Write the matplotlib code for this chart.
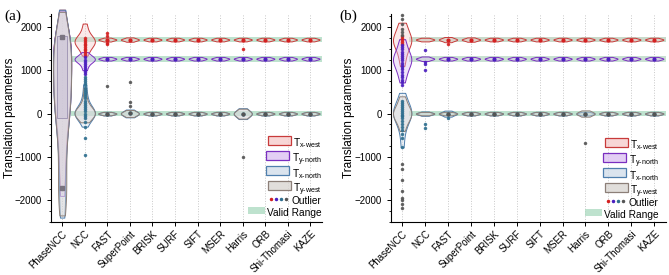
import numpy as np
import matplotlib
matplotlib.use('Agg')
import matplotlib.pyplot as plt
from matplotlib.patches import Rectangle
from matplotlib.colors import to_rgba
from matplotlib.ticker import MultipleLocator

plt.rcParams['font.family'] = ['Liberation Sans', 'DejaVu Sans']
plt.rcParams['mathtext.fontset'] = 'custom'
plt.rcParams['mathtext.rm'] = 'Liberation Sans'

methods = ['PhaseNCC', 'NCC', 'FAST', 'SuperPoint', 'BRISK', 'SURF', 'SIFT',
           'MSER', 'Harris', 'ORB', 'Shi-Thomasi', 'KAZE']
series_names = ['x\u2010west', 'y\u2010north', 'x\u2010north', 'y\u2010west']

# valid ranges
valid_lo = [1650, 1200, -65]
valid_hi = [1770, 1335, 65]

# typical tight samples
tw_tight = [1668, 1690, 1703, 1710, 1717, 1730, 1752]
yn_tight = [1226, 1248, 1261, 1268, 1275, 1288, 1310]
xn_tight = [-42, -20, -7, 0, 7, 20, 42]
yw_tight = [-38, -17, -5, 2, 9, 21, 40]

# ---------------- panel (a) ----------------
a_tx_west = [
    [2400, 1950, 1800, 1680, 1560, 1420, 1280, 1140, 1000, 860, 720,
     580, 430, 280, 120, -60, -280, -560, -900, -1300, -1750],
    [2080, 1950, 1850, 1780, 1740, 1710, 1690, 1670, 1650, 1630, 1600, 1560,
     1500, 1430, 1340],
    [1665, 1690, 1704, 1710, 1716, 1730, 1755],
    [1660, 1688, 1702, 1710, 1718, 1732, 1760],
] + [tw_tight] * 8
a_ty_north = [
    [2380, 1930, 1780, 1660, 1540, 1400, 1250, 1100, 950, 800, 650, 500,
     350, 200, 40, -150, -380, -650, -1000, -1400, -1900],
    [1420, 1360, 1320, 1290, 1275, 1265, 1255, 1240, 1220, 1190, 1150, 1080, 1000],
] + [yn_tight] * 10
a_tx_north = [
    [2400, 1960, 1810, 1690, 1560, 1420, 1280, 1140, 1000, 850, 700,
     550, 400, 250, 100, -50, -250, -500, -800, -1150, -1550, -2000, -2400],
    [680, 450, 300, 180, 100, 60, 30, 10, 0, -10, -30, -70, -150, -300],
    xn_tight,
    [-85, -42, -15, 5, 20, 48, 95],
    xn_tight, xn_tight, xn_tight, xn_tight,
    [-125, -62, -25, 0, 25, 62, 125],
    xn_tight, xn_tight, xn_tight,
]
a_ty_west = [
    [2350, 1920, 1770, 1650, 1520, 1370, 1220, 1070, 920, 770, 620, 470,
     320, 170, 10, -180, -420, -720, -1060, -1450, -1720, -2050, -2350],
    [600, 350, 200, 120, 70, 40, 20, 5, -5, -20, -50, -100, -200],
    yw_tight,
    [-75, -36, -10, 5, 18, 42, 85],
    yw_tight, yw_tight, yw_tight, yw_tight,
    [-115, -56, -20, 0, 22, 56, 115],
    yw_tight, yw_tight, yw_tight,
]
a_out_method = (['NCC'] * 11 + ['NCC'] * 9 + ['NCC'] * 24 +
                ['FAST'] * 5 + ['SuperPoint'] * 3 + ['Harris'] * 2)
a_out_value = ([1745, 1705, 1662, 1618, 1583, 1540, 1502, 1458, 1421, 1378, 1340] +
               [1300, 1248, 1203, 1150, 1102, 1048, 1000, 952, 905] +
               [855, 802, 748, 703, 650, 598, 552, 500, 452, 398, 352, 300, 248,
                202, 150, 98, 52, 0, -48, -100, -195, -300, -570, -965] +
               [1860, 1790, 1640, 1610, 640] + [740, 280, 170] + [1500, -1000])
a_out_series = ([0] * 11 + [1] * 9 + [2] * 24 + [0, 0, 0, 0, 3] + [3, 3, 3] + [0, 3])
a_phase_box = (-100, 1800)
a_phase_marks = [1760, -1720]

# ---------------- panel (b) ----------------
b_tx_west = [
    [2100, 2050, 1950, 1850, 1780, 1740, 1710, 1690, 1660, 1620, 1560, 1480,
     1380, 1250, 1100],
    tw_tight,
    [1650, 1685, 1702, 1710, 1718, 1736, 1770],
    [1660, 1688, 1703, 1710, 1717, 1732, 1760],
] + [tw_tight] * 8
b_ty_north = [
    [1720, 1620, 1520, 1420, 1340, 1300, 1270, 1250, 1220, 1180, 1120, 1040,
     950, 850, 720],
    [1215, 1246, 1262, 1268, 1274, 1290, 1320],
] + [yn_tight] * 10
b_tx_north = [
    [480, 350, 250, 170, 110, 60, 20, 0, -20, -60, -120, -200, -320, -500, -780],
    [-50, -22, -7, 0, 7, 22, 50],
    [-70, -30, -9, 0, 9, 30, 70],
] + [xn_tight] * 9
b_ty_west = [
    [400, 280, 180, 100, 50, 10, -10, -40, -90, -160, -260, -400],
] + [yw_tight] * 7 + [[-70, -35, -10, 2, 14, 38, 75]] + [yw_tight] * 3
b_out_method = (['PhaseNCC'] * 6 + ['PhaseNCC'] * 5 + ['PhaseNCC'] * 18 +
                ['PhaseNCC'] * 17 + ['PhaseNCC'] * 8 + ['NCC'] * 6 +
                ['FAST'] * 2 + ['Harris'])
b_out_value = ([2270, 2180, 2080, 1960, 1880, 1820] +
               [1790, 1752, 1700, 1662, 1618] +
               [1580, 1538, 1482, 1430, 1380, 1330, 1282, 1230, 1180, 1128, 1080,
                1020, 962, 900, 842, 780, 720, 660] +
               [300, 240, 200, 150, 100, 60, 20, -20, -60, -110, -170, -230,
                -300, -380, -470, -560, -770] +
               [-1170, -1270, -1540, -1785, -1940, -1985, -2090, -2190] +
               [1480, 1200, 1150, 1000, -230, -340] + [1600, -100] + [-680])
b_out_series = ([3] * 6 + [0] * 5 + [1] * 18 + [2] * 17 + [3] * 8 +
                [1, 1, 1, 1, 2, 2] + [0, 2] + [3])

edges = ['#c83a3a', '#7a2fc0', '#4f7fae', '#8c7f78']
fills = ['#f5cccc', '#dcc2f2', '#d2deea', '#dad6d3']
dots = ['#d42020', '#4b1fbf', '#2f6f8f', '#555555']
band_color = '#a9d9be'

fig = plt.figure(figsize=(6.69, 2.75), dpi=100)
axA = fig.add_axes([0.076, 0.193, 0.405, 0.756])
axB = fig.add_axes([0.584, 0.193, 0.411, 0.756])


def draw(ax, data4, widths, bws, out_m, out_v, out_s, band_x0, band_colors):
    pos = np.arange(len(methods))
    for p in pos:
        ax.axvline(p, color='#c8c8c8', ls=':', lw=0.7, zorder=0)
    for lo, hi, bc in zip(valid_lo, valid_hi, band_colors):
        ax.fill_between([band_x0, 11.5], lo, hi, color=bc, alpha=0.75,
                        lw=0, zorder=1)
    for s, data in enumerate(data4):
        for j, d in enumerate(data):
            parts = ax.violinplot([d], positions=[pos[j]], widths=widths[j],
                                  showextrema=False, bw_method=bws[j])
            for b in parts['bodies']:
                b.set_alpha(None)
                b.set_facecolor(to_rgba(fills[s], 0.42))
                b.set_edgecolor(edges[s])
                b.set_linewidth(0.7)
                b.set_zorder(2 + s * 0.1)
                b.set_clip_on(False)
        med = [np.median(d) for d in data[2:]]
        ax.plot(pos[2:], med, 'o', ms=2.0, color=dots[s], zorder=4, ls='none')
    xs = [methods.index(m) for m in out_m]
    for s in range(4):
        sx = [x for x, ss in zip(xs, out_s) if ss == s]
        sy = [v for v, ss in zip(out_v, out_s) if ss == s]
        ax.plot(sx, sy, 'o', ms=1.5, color=dots[s], alpha=0.85, ls='none',
                zorder=5, clip_on=False)
    ax.set_xlim(-0.5, 11.5)
    ax.set_ylim(-2500, 2300)
    ax.set_xticks(pos)
    ax.set_xticklabels(methods, rotation=45, ha='right',
                       rotation_mode='anchor', fontsize=7)
    ax.yaxis.set_major_locator(MultipleLocator(1000))
    ax.yaxis.set_minor_locator(MultipleLocator(250))
    ax.tick_params(axis='y', labelsize=7, length=3, width=0.7)
    ax.tick_params(axis='y', which='minor', length=1.8, width=0.6)
    ax.tick_params(axis='x', length=3, width=0.7, pad=2)
    ax.set_ylabel('Translation parameters', fontsize=8.5)
    ax.yaxis.set_label_coords(-0.13, 0.5)
    for sp in ['top', 'right']:
        ax.spines[sp].set_visible(False)
    for sp in ['left', 'bottom']:
        ax.spines[sp].set_linewidth(0.8)


def manual_legend(ax, x_right, rows_px, ax_bottom_px):
    renderer = fig.canvas.get_renderer()
    bb_ax = ax.get_window_extent(renderer)
    pxw = 1.0 / bb_ax.width
    pxh = 1.0 / bb_ax.height
    labels = ['T$_{\\mathregular{%s}}$' % n for n in series_names]
    labels += ['Outlier', 'Valid Range']
    inv = ax.transAxes.inverted()
    for i, lab in enumerate(labels):
        y = (ax_bottom_px - rows_px[i]) * pxh
        t = ax.text(x_right, y - 1.0 * pxh, lab, ha='right',
                    va='center_baseline', fontsize=7.3,
                    transform=ax.transAxes, zorder=6)
        tb = t.get_window_extent(renderer)
        xl = inv.transform((tb.x0, tb.y0))[0]
        gap = 2.5 * pxw
        yc = y
        if i < 4:
            w, h = 23 * pxw, 9 * pxh
            ax.add_patch(Rectangle((xl - gap - w, yc - h / 2), w, h,
                                   transform=ax.transAxes,
                                   facecolor=to_rgba(fills[i], 0.8),
                                   edgecolor=edges[i], lw=0.9, clip_on=False,
                                   zorder=6))
        elif i == 4:
            for k, c in enumerate(dots):
                ax.plot(xl - gap - (3 + 5 * (3 - k)) * pxw, yc, 'o', ms=1.5,
                        color=c, transform=ax.transAxes, clip_on=False,
                        zorder=6)
        else:
            w, h = 17 * pxw, 7 * pxh
            ax.add_patch(Rectangle((xl - gap - w, yc - h / 2), w, h,
                                   transform=ax.transAxes,
                                   facecolor=band_color, alpha=0.75, lw=0,
                                   clip_on=False, zorder=6))


draw(axA, [a_tx_west, a_ty_north, a_tx_north, a_ty_west],
     [0.8, 0.9] + [0.8] * 10, [0.35] + ['scott'] * 11,
     a_out_method, a_out_value, a_out_series,
     0.4, [band_color, band_color, band_color])
axA.add_patch(Rectangle((-0.22, a_phase_box[0]), 0.44,
                        a_phase_box[1] - a_phase_box[0],
                        facecolor=to_rgba('#c4bcd4', 0.45), edgecolor='#9a90b0',
                        lw=0.6, zorder=3))
axA.plot([0] * len(a_phase_marks), a_phase_marks, 's', ms=2.5,
         color='#7a7480', zorder=5, ls='none')

draw(axB, [b_tx_west, b_ty_north, b_tx_north, b_ty_west],
     [0.8] * 12, ['scott'] * 12, b_out_method, b_out_value, b_out_series,
     0.3, ['#b8cdb9', '#b6d6c2', band_color])

fig.canvas.draw()
legend_rows = [140.5, 156, 171, 185.5, 199.3, 211]
manual_legend(axA, 1.0, legend_rows, 222)
manual_legend(axB, 0.975, [r + 2 for r in legend_rows], 222)

fig.text(0.006, 0.94, '(a)', fontsize=11, family='Liberation Serif', va='center')
fig.text(0.508, 0.94, '(b)', fontsize=11, family='Liberation Serif', va='center')

fig.savefig('out.png', dpi=100)
